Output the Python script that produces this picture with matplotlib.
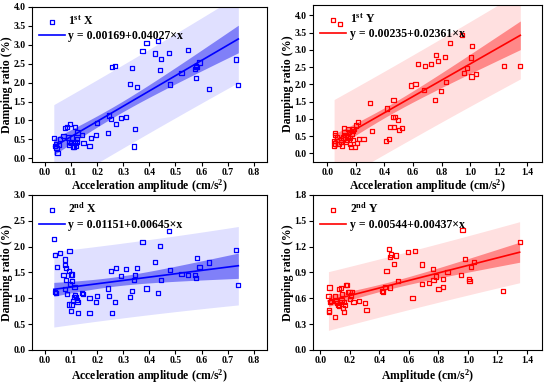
import numpy as np
import matplotlib.pyplot as plt

plt.rcParams['font.family'] = ['Liberation Serif', 'DejaVu Serif']
plt.rcParams['font.weight'] = 'bold'
plt.rcParams['axes.labelweight'] = 'bold'
plt.rcParams['mathtext.fontset'] = 'custom'
plt.rcParams['mathtext.rm'] = 'Liberation Serif:bold'
plt.rcParams['mathtext.it'] = 'Liberation Serif:bold'

# 1st X
x1 = [0.034, 0.042, 0.038, 0.044, 0.048, 0.053, 0.059, 0.071, 0.077, 0.083, 0.087, 0.095,
      0.094, 0.092, 0.100, 0.104, 0.106, 0.111, 0.114, 0.116, 0.119, 0.123, 0.125, 0.124,
      0.143, 0.148, 0.171, 0.175, 0.196, 0.200, 0.243, 0.244, 0.253, 0.258, 0.268, 0.273,
      0.291, 0.312, 0.327, 0.335, 0.344, 0.341, 0.354, 0.374, 0.389, 0.421, 0.433, 0.441,
      0.446, 0.475, 0.478, 0.523, 0.547, 0.576, 0.579, 0.581, 0.579, 0.592, 0.628, 0.731, 0.741]
y1 = [0.53, 0.38, 0.33, 0.28, 0.15, 0.35, 0.50, 0.59, 0.79, 0.82, 0.55, 0.91,
      0.44, 0.35, 0.40, 0.55, 0.31, 0.31, 0.41, 0.82, 0.34, 0.50, 0.68, 0.44,
      0.62, 0.41, 0.33, 0.53, 0.61, 0.93, 0.66, 1.13, 1.03, 2.42, 2.43, 0.90,
      1.07, 1.09, 1.96, 2.38, 0.78, 0.31, 1.89, 2.84, 3.05, 2.77, 3.10, 2.33,
      2.62, 2.79, 1.95, 2.25, 2.86, 2.35, 2.44, 2.42, 2.13, 2.53, 1.84, 2.61, 1.93]

# 1st Y
x2 = [0.091, 0.053, 0.057, 0.068, 0.048, 0.053, 0.048, 0.080, 0.098, 0.103, 0.098, 0.112,
      0.116, 0.121, 0.128, 0.132, 0.139, 0.146, 0.148, 0.153, 0.158, 0.162, 0.167, 0.171,
      0.178, 0.183, 0.180, 0.194, 0.199, 0.210, 0.217, 0.222, 0.253, 0.297, 0.311, 0.411,
      0.420, 0.429, 0.438, 0.457, 0.463, 0.468, 0.473, 0.496, 0.500, 0.521, 0.585, 0.617,
      0.633, 0.685, 0.724, 0.678, 0.758, 0.776, 0.754, 0.795, 0.824, 0.829, 0.856, 0.943,
      0.959, 0.977, 1.005, 1.009, 1.014, 1.039, 1.238, 1.350]
y2 = [3.76, 0.60, 0.53, 0.48, 0.37, 0.29, 0.23, 0.27, 0.40, 0.21, 0.33, 0.46,
      0.74, 0.63, 0.53, 0.32, 0.39, 0.71, 0.48, 0.62, 0.27, 0.45, 0.19, 0.56,
      0.65, 0.71, 0.40, 0.19, 0.81, 0.31, 0.90, 0.42, 0.43, 1.47, 0.64, 0.36,
      1.30, 0.42, 0.77, 1.05, 1.55, 0.77, 1.06, 0.98, 0.69, 0.74, 1.97, 2.00,
      2.59, 2.54, 2.59, 1.83, 2.86, 2.68, 1.55, 1.82, 2.79, 2.08, 3.20, 3.42,
      2.32, 2.47, 2.78, 2.23, 3.12, 2.29, 2.53, 2.54]

# 2nd X
x3 = [0.034, 0.040, 0.058, 0.047, 0.038, 0.042, 0.071, 0.076, 0.078, 0.080, 0.094, 0.082,
      0.078, 0.092, 0.099, 0.097, 0.104, 0.105, 0.086, 0.092, 0.101, 0.102, 0.107, 0.110,
      0.113, 0.116, 0.120, 0.124, 0.125, 0.128, 0.143, 0.147, 0.171, 0.171, 0.196, 0.200,
      0.243, 0.244, 0.253, 0.258, 0.268, 0.273, 0.291, 0.312, 0.327, 0.335, 0.341, 0.344,
      0.354, 0.374, 0.389, 0.421, 0.434, 0.441, 0.446, 0.475, 0.478, 0.523, 0.547, 0.576,
      0.579, 0.582, 0.592, 0.628, 0.731, 0.741]
y3 = [2.14, 1.83, 1.87, 1.60, 1.12, 1.10, 1.45, 1.75, 1.65, 1.59, 1.92, 1.35,
      1.18, 1.52, 1.46, 1.28, 1.34, 1.46, 1.08, 0.88, 0.76, 0.88, 0.94, 1.02,
      1.21, 1.06, 1.02, 0.97, 0.92, 0.72, 1.10, 1.08, 1.01, 0.72, 0.92, 1.05,
      1.19, 1.05, 1.52, 0.71, 0.92, 1.58, 1.43, 1.57, 1.03, 1.14, 1.36, 1.45,
      1.58, 2.08, 1.19, 1.70, 1.10, 2.01, 1.35, 2.30, 1.55, 1.47, 1.45, 1.45,
      1.39, 1.78, 1.61, 1.69, 1.94, 1.25]

# 2nd Y
x4 = [0.055, 0.062, 0.060, 0.058, 0.066, 0.071, 0.097, 0.099, 0.106, 0.112, 0.117, 0.128,
      0.128, 0.132, 0.139, 0.143, 0.148, 0.154, 0.159, 0.161, 0.165, 0.172, 0.183, 0.185,
      0.198, 0.203, 0.209, 0.216, 0.225, 0.262, 0.304, 0.313, 0.417, 0.425, 0.437, 0.448,
      0.463, 0.470, 0.478, 0.474, 0.500, 0.511, 0.527, 0.593, 0.624, 0.639, 0.690, 0.690,
      0.736, 0.761, 0.767, 0.783, 0.800, 0.833, 0.833, 0.862, 0.952, 0.963, 0.981, 1.007,
      1.010, 1.019, 1.043, 1.239, 1.350]
y4 = [0.627, 0.724, 0.457, 0.440, 0.554, 0.569, 0.627, 0.379, 0.569, 0.542, 0.523, 0.708,
      0.515, 0.554, 0.720, 0.581, 0.650, 0.484, 0.554, 0.437, 0.523, 0.755, 0.755, 0.670,
      0.670, 0.588, 0.631, 0.670, 0.561, 0.565, 0.546, 0.465, 0.685, 0.670, 0.728, 0.914,
      1.169, 1.080, 1.107, 0.724, 0.999, 1.096, 0.801, 1.138, 0.604, 1.150, 0.991, 0.767,
      0.774, 0.941, 0.809, 0.852, 0.708, 0.825, 0.732, 0.906, 0.871, 1.394, 1.053, 0.825,
      0.797, 0.964, 1.018, 0.681, 1.250]

# fit coefficients (legend gives fraction units, plotted in %)
coef1 = (0.00169, 0.04027)
coef2 = (0.00235, 0.02361)
coef3 = (0.01151, 0.00645)
coef4 = (0.00544, 0.00437)

fig = plt.figure(figsize=(5.5, 3.85), dpi=100)

def panel(rect, x, y, coef, col, cconf, cpred, name, xlabel, xlim, ylim, yticks, xticks,
          ylx, xly):
    ax = fig.add_axes(rect)
    x = np.array(x)
    y = np.array(y)
    a, b = coef[0] * 100, coef[1] * 100
    xs = np.linspace(x.min(), x.max(), 100)
    fit = a + b * xs
    n = len(x)
    s = np.sqrt(np.sum((y - (a + b * x)) ** 2) / (n - 2))
    sxx = np.sum((x - x.mean()) ** 2)
    t = 2.0
    conf = t * s * np.sqrt(1.0 / n + (xs - x.mean()) ** 2 / sxx)
    pred = t * s * np.sqrt(1 + 1.0 / n + (xs - x.mean()) ** 2 / sxx)
    ax.fill_between(xs, fit - pred, fit + pred, color=cpred, lw=0, zorder=1)
    ax.fill_between(xs, fit - conf, fit + conf, color=cconf, lw=0, zorder=2)
    ax.scatter(x, y, s=9, marker='s', facecolors='none', edgecolors=col, linewidths=0.9,
               zorder=4, label=name)
    ax.plot(xs, fit, color=col, lw=1.2, zorder=3,
            label='y = %.5f+%.5f×x' % coef)
    ax.set_xlim(*xlim)
    ax.set_ylim(*ylim)
    ax.set_xticks(xticks)
    ax.set_yticks(yticks)
    ax.xaxis.set_major_formatter(plt.FormatStrFormatter('%.1f'))
    ax.yaxis.set_major_formatter(plt.FormatStrFormatter('%.1f'))
    ax.tick_params(labelsize=7, length=3, width=0.8, pad=1.5)
    for sp in ax.spines.values():
        sp.set_linewidth(0.8)
    ax.set_xlabel(xlabel, fontsize=8.5)
    ax.set_ylabel('Damping ratio (%)', fontsize=8.5)
    ax.yaxis.set_label_coords(ylx, 0.5)
    ax.xaxis.set_label_coords(0.5, xly)
    ax.legend(loc='upper left', frameon=False, fontsize=8.5, handlelength=2.2,
              handletextpad=0.3, borderaxespad=0.2, labelspacing=0.2)
    return ax

acc = 'Acceleration amplitude (cm/s$^2$)'
blue = '#0000ff'
red = '#ff0000'
panel([0.058, 0.579, 0.427, 0.403], x1, y1, coef1, blue, '#8080f8', '#e0e0ff',
      '1$^{st}$ X', acc, (-0.05, 0.85), (-0.1, 4.0),
      np.arange(0, 4.01, 0.5), np.arange(0, 0.81, 0.1), -0.082, -0.1)
panel([0.569, 0.579, 0.416, 0.408], x2, y2, coef2, red, '#ff8888', '#ffe0e0',
      '1$^{st}$ Y', acc, (-0.1, 1.5), (-0.25, 4.3),
      np.arange(0, 4.01, 0.5), np.arange(0, 1.41, 0.2), -0.085, -0.1)
panel([0.058, 0.091, 0.427, 0.403], x3, y3, coef3, blue, '#8080f8', '#e0e0ff',
      '2$^{nd}$ X', acc, (-0.05, 0.85), (0.0, 3.0),
      np.arange(0, 3.01, 0.5), np.arange(0, 0.81, 0.1), -0.082, -0.115)
panel([0.569, 0.091, 0.416, 0.403], x4, y4, coef4, red, '#ff8888', '#ffe0e0',
      '2$^{nd}$ Y', 'Amplitude (cm/s$^2$)', (-0.05, 1.5), (0.0, 1.8),
      np.arange(0, 1.81, 0.3), np.arange(0, 1.41, 0.2), -0.085, -0.115)

fig.savefig('out.png', dpi=100)
